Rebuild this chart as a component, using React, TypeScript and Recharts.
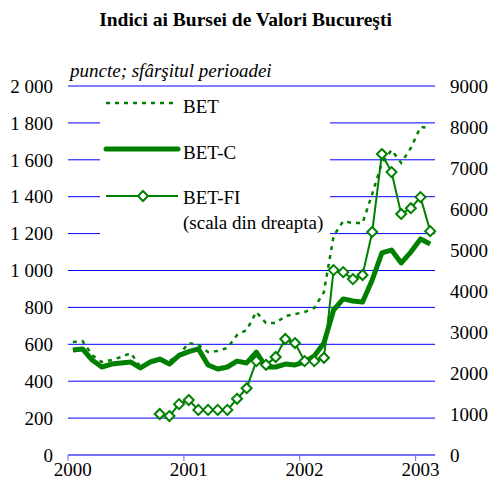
import {
  CartesianGrid,
  ComposedChart,
  Legend,
  Line,
  XAxis,
  YAxis,
} from "recharts";

const GREEN = "#008000";
const FONT = "Liberation Serif, Times New Roman, serif";
const textStyle = { fontFamily: FONT, fontSize: 19 };

// monthly, Jan 2000 .. Feb 2003 (end of period)
const months = [
  "2000-01", "2000-02", "2000-03", "2000-04", "2000-05", "2000-06",
  "2000-07", "2000-08", "2000-09", "2000-10", "2000-11", "2000-12",
  "2001-01", "2001-02", "2001-03", "2001-04", "2001-05", "2001-06",
  "2001-07", "2001-08", "2001-09", "2001-10", "2001-11", "2001-12",
  "2002-01", "2002-02", "2002-03", "2002-04", "2002-05", "2002-06",
  "2002-07", "2002-08", "2002-09", "2002-10", "2002-11", "2002-12",
  "2003-01", "2003-02",
];

const bet = [
  612, 618, 542, 504, 515, 531, 553, 477, 499, 515, 509, 542,
  607, 596, 558, 564, 580, 650, 678, 775, 715, 715, 753, 764,
  775, 797, 883, 1187, 1268, 1257, 1257, 1415, 1583, 1653, 1583, 1664,
  1778, 1772,
];

const betC = [
  569, 575, 515, 477, 493, 499, 504, 472, 504, 520, 493, 540,
  560, 575, 488, 466, 477, 509, 499, 558, 477, 477, 493, 488,
  504, 537, 607, 786, 846, 835, 829, 949, 1095, 1111, 1041, 1100,
  1171, 1144,
];

// right-hand scale, starts Oct 2000
const betFi = [
  null, null, null, null, null, null, null, null, null, 1000, 950, 1240,
  1340, 1100, 1100, 1100, 1100, 1370, 1630, 2290, 2200, 2390, 2830, 2730,
  2290, 2290, 2370, 4510, 4460, 4290, 4390, 5440, 7340, 6900, 5880, 6020,
  6290, 5460,
];

const yearLabels = ["2000", "2001", "2002", "2003"];
const leftTicks = [0, 200, 400, 600, 800, 1000, 1200, 1400, 1600, 1800, 2000];
const rightTicks = [0, 1000, 2000, 3000, 4000, 5000, 6000, 7000, 8000, 9000];

const data = months.map((m, i) => ({
  month: m,
  x: i + 0.5,
  bet: bet[i],
  betC: betC[i],
  betFi: betFi[i],
}));

const fmtLeft = (v: number) =>
  v >= 1000 ? `${Math.floor(v / 1000)} ${String(v % 1000).padStart(3, "0")}` : String(v);

const Diamond = (props: any) => {
  const { cx, cy, index } = props;
  if (cx == null || cy == null) return <g key={index} />;
  const r = 5;
  return (
    <path
      key={index}
      d={`M${cx},${cy - r}L${cx + r},${cy}L${cx},${cy + r}L${cx - r},${cy}Z`}
      fill="#fff"
      stroke={GREEN}
      strokeWidth={2}
    />
  );
};

const YearTick = (props: any) => {
  const { x, y, payload } = props;
  return (
    <text x={x + 4.8} y={y} dy="0.71em" textAnchor="middle" fill="#000" style={textStyle}>
      {yearLabels[Math.round(payload.value / 12)]}
    </text>
  );
};

const LegendBox = () => (
  <svg width={230} height={165} style={{ display: "block" }}>
    <line x1={6} y1={13} x2={78} y2={13} stroke={GREEN} strokeWidth={2.5} strokeDasharray="4 5" />
    <text x={83} y={23} style={textStyle}>BET</text>
    <line x1={6} y1={59} x2={78} y2={59} stroke={GREEN} strokeWidth={5} strokeLinecap="round" />
    <text x={83} y={69} style={textStyle}>BET-C</text>
    <line x1={6} y1={106} x2={78} y2={106} stroke={GREEN} strokeWidth={2} />
    <Diamond cx={43} cy={106} index={0} />
    <text x={83} y={114} style={textStyle}>BET-FI</text>
    <text x={83} y={139} style={textStyle}>(scala din dreapta)</text>
  </svg>
);

export default function App() {
  return (
    <div style={{ position: "absolute", left: 0, top: 0, width: 491, height: 488, background: "#fff" }}>
      <div
        style={{
          position: "absolute",
          top: 10,
          left: 0,
          width: 491,
          textAlign: "center",
          fontFamily: FONT,
          fontWeight: "bold",
          fontSize: 19.5,
          lineHeight: "19px",
          zIndex: 2,
        }}
      >
        Indici ai Bursei de Valori Bucureşti
      </div>
      <div
        style={{
          position: "absolute",
          top: 61,
          left: 70,
          fontFamily: FONT,
          fontStyle: "italic",
          fontSize: 19,
          lineHeight: "19px",
          zIndex: 2,
        }}
      >
        puncte; sfârşitul perioadei
      </div>
      <ComposedChart
        width={491}
        height={488}
        data={data}
        margin={{ top: 86, right: 0, bottom: 0, left: 0 }}
        style={{ fontFamily: FONT }}
      >
        <CartesianGrid yAxisId="left" vertical={false} stroke="#0000ff" strokeWidth={1} />
        <XAxis
          type="number"
          dataKey="x"
          domain={[0, 38]}
          ticks={[0, 12, 24, 36]}
          height={33}
          axisLine={{ stroke: "#6666ff" }}
          tickLine={{ stroke: "#6666ff" }}
          tickSize={6}
          tickMargin={2}
          tick={<YearTick />}
        />
        <YAxis
          yAxisId="left"
          width={68}
          domain={[0, 2000]}
          ticks={leftTicks}
          tickFormatter={fmtLeft}
          axisLine={false}
          tickLine={false}
          tickSize={6}
          tickMargin={9}
          tick={{ fill: "#000", fontSize: 19, style: textStyle }}
        />
        <YAxis
          yAxisId="right"
          orientation="right"
          width={56}
          domain={[0, 9000]}
          ticks={rightTicks}
          axisLine={false}
          tickLine={false}
          tickSize={6}
          tickMargin={9}
          tick={{ fill: "#000", fontSize: 19, style: textStyle }}
        />
        <Legend
          layout="horizontal"
          verticalAlign="middle"
          align="center"
          wrapperStyle={{ position: "absolute", left: 100, top: 90, width: 230, height: 165, background: "#fff" }}
          content={() => <LegendBox />}
        />
        <Line
          yAxisId="left"
          type="linear"
          dataKey="bet"
          stroke={GREEN}
          strokeWidth={2.5}
          strokeDasharray="4 5"
          dot={false}
          isAnimationActive={false}
        />
        <Line
          yAxisId="left"
          type="linear"
          dataKey="betC"
          stroke={GREEN}
          strokeWidth={5}
          strokeLinejoin="round"
          dot={false}
          isAnimationActive={false}
        />
        <Line
          yAxisId="right"
          type="linear"
          dataKey="betFi"
          stroke={GREEN}
          strokeWidth={2}
          dot={<Diamond />}
          isAnimationActive={false}
        />
      </ComposedChart>
    </div>
  );
}
